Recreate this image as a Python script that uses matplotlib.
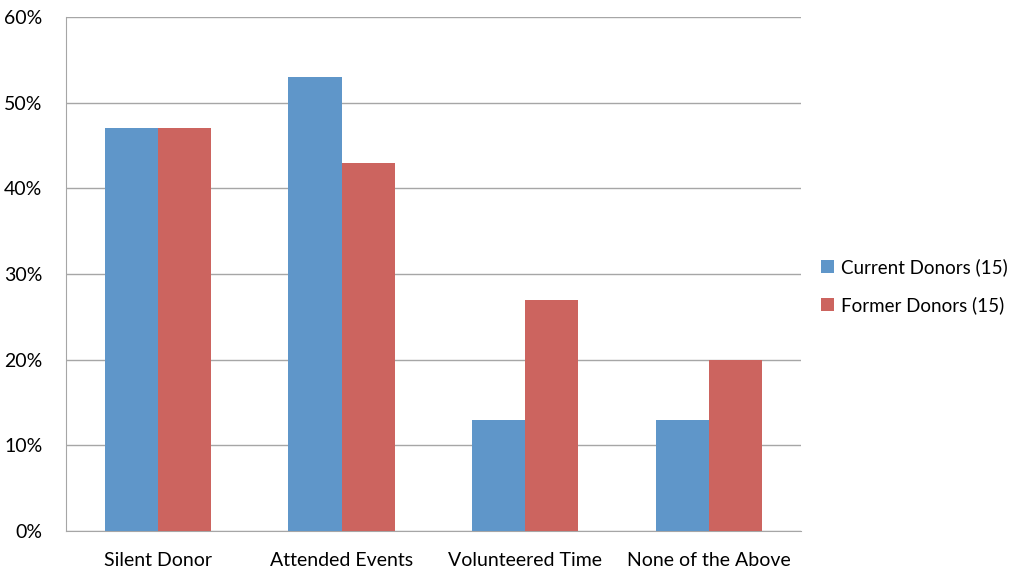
import numpy as np
import matplotlib
matplotlib.use('Agg')
import matplotlib.pyplot as plt
from matplotlib.ticker import FuncFormatter

categorias = ['Silent Donor', 'Attended Events', 'Volunteered Time', 'None of the Above']
atuais = [47, 53, 13, 13]
antigos = [47, 43, 27, 20]
series = ['Current Donors (15)', 'Former Donors (15)']
cores = ['#5F96C9', '#CC645F']

plt.rcParams['font.family'] = ['Lato', 'DejaVu Sans']

fig = plt.figure(figsize=(10.16, 5.69), dpi=100)
ax = fig.add_axes([0.065, 0.067, 0.723, 0.903])

x = np.arange(len(categorias))
largura = 0.29
ax.bar(x - largura / 2, atuais, largura, color=cores[0], label=series[0], zorder=3)
ax.bar(x + largura / 2, antigos, largura, color=cores[1], label=series[1], zorder=3)

ax.set_xlim(-0.5, len(categorias) - 0.5)
ax.set_ylim(0, 60)
ax.set_yticks(range(0, 61, 10))
ax.yaxis.set_major_formatter(FuncFormatter(lambda v, p: f'{v:.0f}%'))
ax.set_xticks(x)
ax.set_xticklabels(categorias)
ax.grid(axis='y', color='#A6A6A6', linewidth=1, zorder=0)
ax.tick_params(axis='both', length=0, labelsize=14, colors='black')
ax.tick_params(axis='x', pad=15)
ax.tick_params(axis='y', pad=17)
for s in ['top', 'right']:
    ax.spines[s].set_visible(False)
for s in ['left', 'bottom']:
    ax.spines[s].set_color('#A6A6A6')

fig.legend(loc='center left', bbox_to_anchor=(0.808, 0.497), frameon=False,
           fontsize=13.5, handlelength=0.7, handleheight=0.7, handletextpad=0.35,
           labelspacing=1.1, borderpad=0, borderaxespad=0)

fig.savefig('out.png', dpi=100)
